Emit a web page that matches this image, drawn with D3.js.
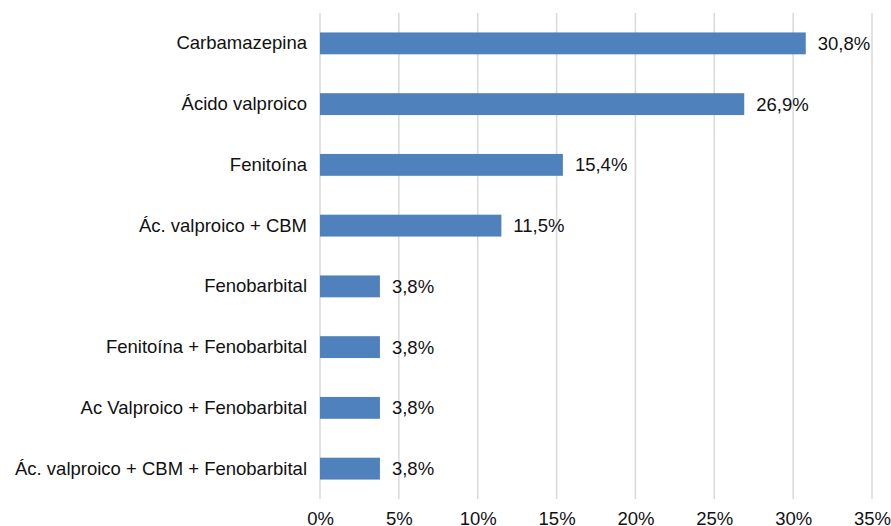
<!DOCTYPE html>
<html>
<head>
<meta charset="utf-8">
<script src="https://cdn.jsdelivr.net/npm/d3@7"></script>
<style>
  body { margin: 0; background: #fff; }
  svg { display: block; font-family: "Liberation Sans", Arial, sans-serif; }
</style>
</head>
<body>
<svg></svg>
<script>
// data
var categories = ["Carbamazepina", "Ácido valproico", "Fenitoína", "Ác. valproico + CBM",
  "Fenobarbital", "Fenitoína + Fenobarbital", "Ac Valproico + Fenobarbital",
  "Ác. valproico + CBM + Fenobarbital"];
var values = [30.8, 26.9, 15.4, 11.5, 3.8, 3.8, 3.8, 3.8];
var ticks = [0, 5, 10, 15, 20, 25, 30, 35];

var screen = { width: 891, height: 526 };
var margins = { top: 13, bottom: 27, left: 320, right: 19 };
var width = screen.width - margins.left - margins.right;
var height = screen.height - margins.top - margins.bottom;
var fontSize = 18.5;

var svg = d3.select("svg")
  .attr("width", screen.width)
  .attr("height", screen.height);

var xScale = d3.scaleLinear().domain([0, 35]).range([0, width]);
var yScale = d3.scaleBand().domain(categories).range([0, height]).paddingInner(0.64).paddingOuter(0.32);

var plot = svg.append("g")
  .attr("transform", "translate(" + margins.left + "," + margins.top + ")");

// gridlines
plot.selectAll(".grid")
  .data(ticks)
  .enter().append("line")
  .attr("x1", function(d) { return xScale(d); })
  .attr("x2", function(d) { return xScale(d); })
  .attr("y1", 0)
  .attr("y2", height)
  .attr("stroke", "#d9d9d9")
  .attr("stroke-width", 1.5);

// bars
var rows = categories.map(function(c, i) { return { name: c, value: values[i] }; });
plot.selectAll(".bar")
  .data(rows)
  .enter().append("rect")
  .attr("x", 0)
  .attr("y", function(d) { return yScale(d.name); })
  .attr("width", function(d) { return xScale(d.value); })
  .attr("height", yScale.bandwidth())
  .attr("fill", "#4f81bd");

// value labels
plot.selectAll(".val")
  .data(rows)
  .enter().append("text")
  .attr("x", function(d) { return xScale(d.value) + 12; })
  .attr("y", function(d) { return yScale(d.name) + yScale.bandwidth() / 2; })
  .attr("dy", "0.35em")
  .attr("font-size", fontSize)
  .attr("fill", "#111")
  .text(function(d) { return d.value.toFixed(1).replace(".", ",") + "%"; });

// x axis
var xAxis = d3.axisBottom(xScale)
  .tickValues(ticks)
  .tickSize(0)
  .tickPadding(12.5)
  .tickFormat(function(d) { return d + "%"; });
var xg = plot.append("g")
  .attr("transform", "translate(0," + height + ")")
  .call(xAxis);
xg.select(".domain").remove();
xg.selectAll("text").attr("font-size", fontSize).attr("fill", "#111").attr("font-family", null);

// y axis
var yAxis = d3.axisLeft(yScale).tickSize(0).tickPadding(13);
var yg = plot.append("g").call(yAxis);
yg.select(".domain").remove();
yg.selectAll("text").attr("font-size", fontSize).attr("fill", "#111").attr("font-family", null);
</script>
</body>
</html>
